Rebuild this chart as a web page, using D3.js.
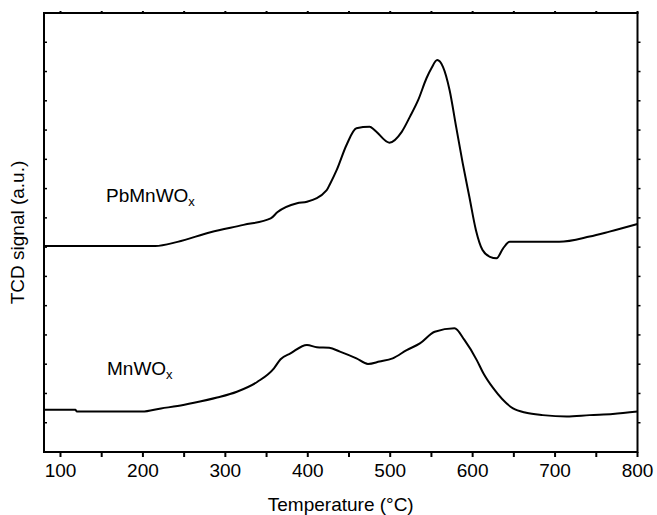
<!DOCTYPE html>
<html>
<head>
<meta charset="utf-8">
<script src="https://cdn.jsdelivr.net/npm/d3@7"></script>
<style>
    body { margin: 0; background: #fff; }
    #chart { width: 657px; height: 515px; }
    text { font-family: Arial, "Liberation Sans", sans-serif; fill: #000; }
</style>
</head>
<body>
<div id="chart"></div>
<script>
// values (signal in arbitrary units)
const pbTemps = [80, 215, 242, 282, 322, 355, 363, 387, 399, 423, 427, 435, 447, 459, 475, 481, 499, 514, 524, 534, 544, 550, 557, 564, 572, 580, 588, 596, 604, 612, 621, 629, 637, 645, 705, 742, 766, 800];
const pbSignal = [7.04, 7.04, 7.18, 7.51, 7.76, 7.98, 8.19, 8.50, 8.55, 8.95, 9.16, 9.63, 10.49, 11.06, 11.11, 11.00, 10.57, 10.94, 11.46, 12.03, 12.77, 13.11, 13.39, 13.16, 12.37, 11.11, 9.86, 8.72, 7.58, 6.90, 6.67, 6.62, 6.96, 7.18, 7.18, 7.36, 7.53, 7.79];

const mnTemps = [80, 118, 120, 199, 222, 242, 262, 290, 314, 339, 359, 367, 379, 399, 411, 426, 439, 459, 473, 487, 503, 520, 536, 554, 578, 590, 605, 613, 625, 649, 665, 685, 714, 742, 770, 800];
const mnSignal = [1.44, 1.44, 1.38, 1.38, 1.49, 1.57, 1.68, 1.86, 2.06, 2.40, 2.86, 3.17, 3.37, 3.66, 3.58, 3.56, 3.43, 3.20, 3.01, 3.09, 3.20, 3.48, 3.71, 4.11, 4.23, 3.83, 3.14, 2.69, 2.18, 1.49, 1.34, 1.26, 1.21, 1.26, 1.30, 1.38];

const majorTicks = [100, 200, 300, 400, 500, 600, 700, 800];
const minorTicks = [150, 250, 350, 450, 550, 650, 750];
const yTicks = [1, 2, 3, 4, 5, 6, 7, 8, 9, 10, 11, 12, 13, 14];

const series = [
    { name: "PbMnWO", temps: pbTemps, signal: pbSignal },
    { name: "MnWO", temps: mnTemps, signal: mnSignal }
];

let WIDTH = 657, HEIGHT = 515;
let margin = { top: 13, right: 19.5, bottom: 63, left: 44 };

let x = d3.scaleLinear()
    .domain([80, 800])
    .range([margin.left, WIDTH - margin.right]);

let y = d3.scaleLinear()
    .domain([0, 15])
    .range([HEIGHT - margin.bottom, margin.top]);

let svg = d3.select("#chart")
    .append("svg")
    .attr("width", WIDTH)
    .attr("height", HEIGHT);

// frame
svg.append("rect")
    .attr("x", x(80))
    .attr("y", y(15))
    .attr("width", x(800) - x(80))
    .attr("height", y(0) - y(15))
    .attr("fill", "none")
    .attr("stroke", "#000")
    .attr("stroke-width", 2);

// bottom ticks, outward
let bottomTicks = majorTicks.concat(minorTicks);
svg.selectAll(".xtick")
    .data(bottomTicks)
    .enter()
    .append("line")
    .attr("x1", d => x(d))
    .attr("x2", d => x(d))
    .attr("y1", y(0))
    .attr("y2", y(0) + 5)
    .attr("stroke", "#000")
    .attr("stroke-width", 2);

// top ticks
svg.selectAll(".ttick")
    .data(bottomTicks)
    .enter()
    .append("line")
    .attr("x1", d => x(d))
    .attr("x2", d => x(d))
    .attr("y1", y(15) - 2)
    .attr("y2", y(15) + 1)
    .attr("stroke", "#000")
    .attr("stroke-width", 2);

// left ticks, inward
svg.selectAll(".ltick")
    .data(yTicks)
    .enter()
    .append("line")
    .attr("x1", x(80))
    .attr("x2", x(80) + 3)
    .attr("y1", d => y(d))
    .attr("y2", d => y(d))
    .attr("stroke", "#000")
    .attr("stroke-width", 1.5);

// right ticks, outward
svg.selectAll(".rtick")
    .data(yTicks)
    .enter()
    .append("line")
    .attr("x1", x(800))
    .attr("x2", x(800) + 3)
    .attr("y1", d => y(d))
    .attr("y2", d => y(d))
    .attr("stroke", "#000")
    .attr("stroke-width", 1.5);

// tick labels
svg.selectAll(".xlabel")
    .data(majorTicks)
    .enter()
    .append("text")
    .attr("x", d => x(d))
    .attr("y", 477)
    .attr("text-anchor", "middle")
    .style("font-size", "19px")
    .text(d => d);

// axis titles
svg.append("text")
    .attr("x", (x(80) + x(800)) / 2)
    .attr("y", 511)
    .attr("text-anchor", "middle")
    .style("font-size", "19px")
    .text("Temperature (°C)");

svg.append("text")
    .attr("transform", `translate(24,${(y(0) + y(15)) / 2}) rotate(-90)`)
    .attr("text-anchor", "middle")
    .style("font-size", "19px")
    .text("TCD signal (a.u.)");

// curves
let line = d3.line()
    .x(d => x(d[0]))
    .y(d => y(d[1]))
    .curve(d3.curveMonotoneX);

series.forEach(s => {
    svg.append("path")
        .datum(s.temps.map((t, i) => [t, s.signal[i]]))
        .attr("d", line)
        .attr("fill", "none")
        .attr("stroke", "#000")
        .attr("stroke-width", 2);
});

// series labels with subscript x
let labelPos = [[106, 201.5], [107, 375]];
series.forEach((s, i) => {
    let t = svg.append("text")
        .attr("x", labelPos[i][0])
        .attr("y", labelPos[i][1])
        .style("font-size", "19px");
    t.append("tspan").text(s.name);
    t.append("tspan")
        .attr("dy", 4)
        .style("font-size", "13px")
        .text("x");
});
</script>
</body>
</html>
